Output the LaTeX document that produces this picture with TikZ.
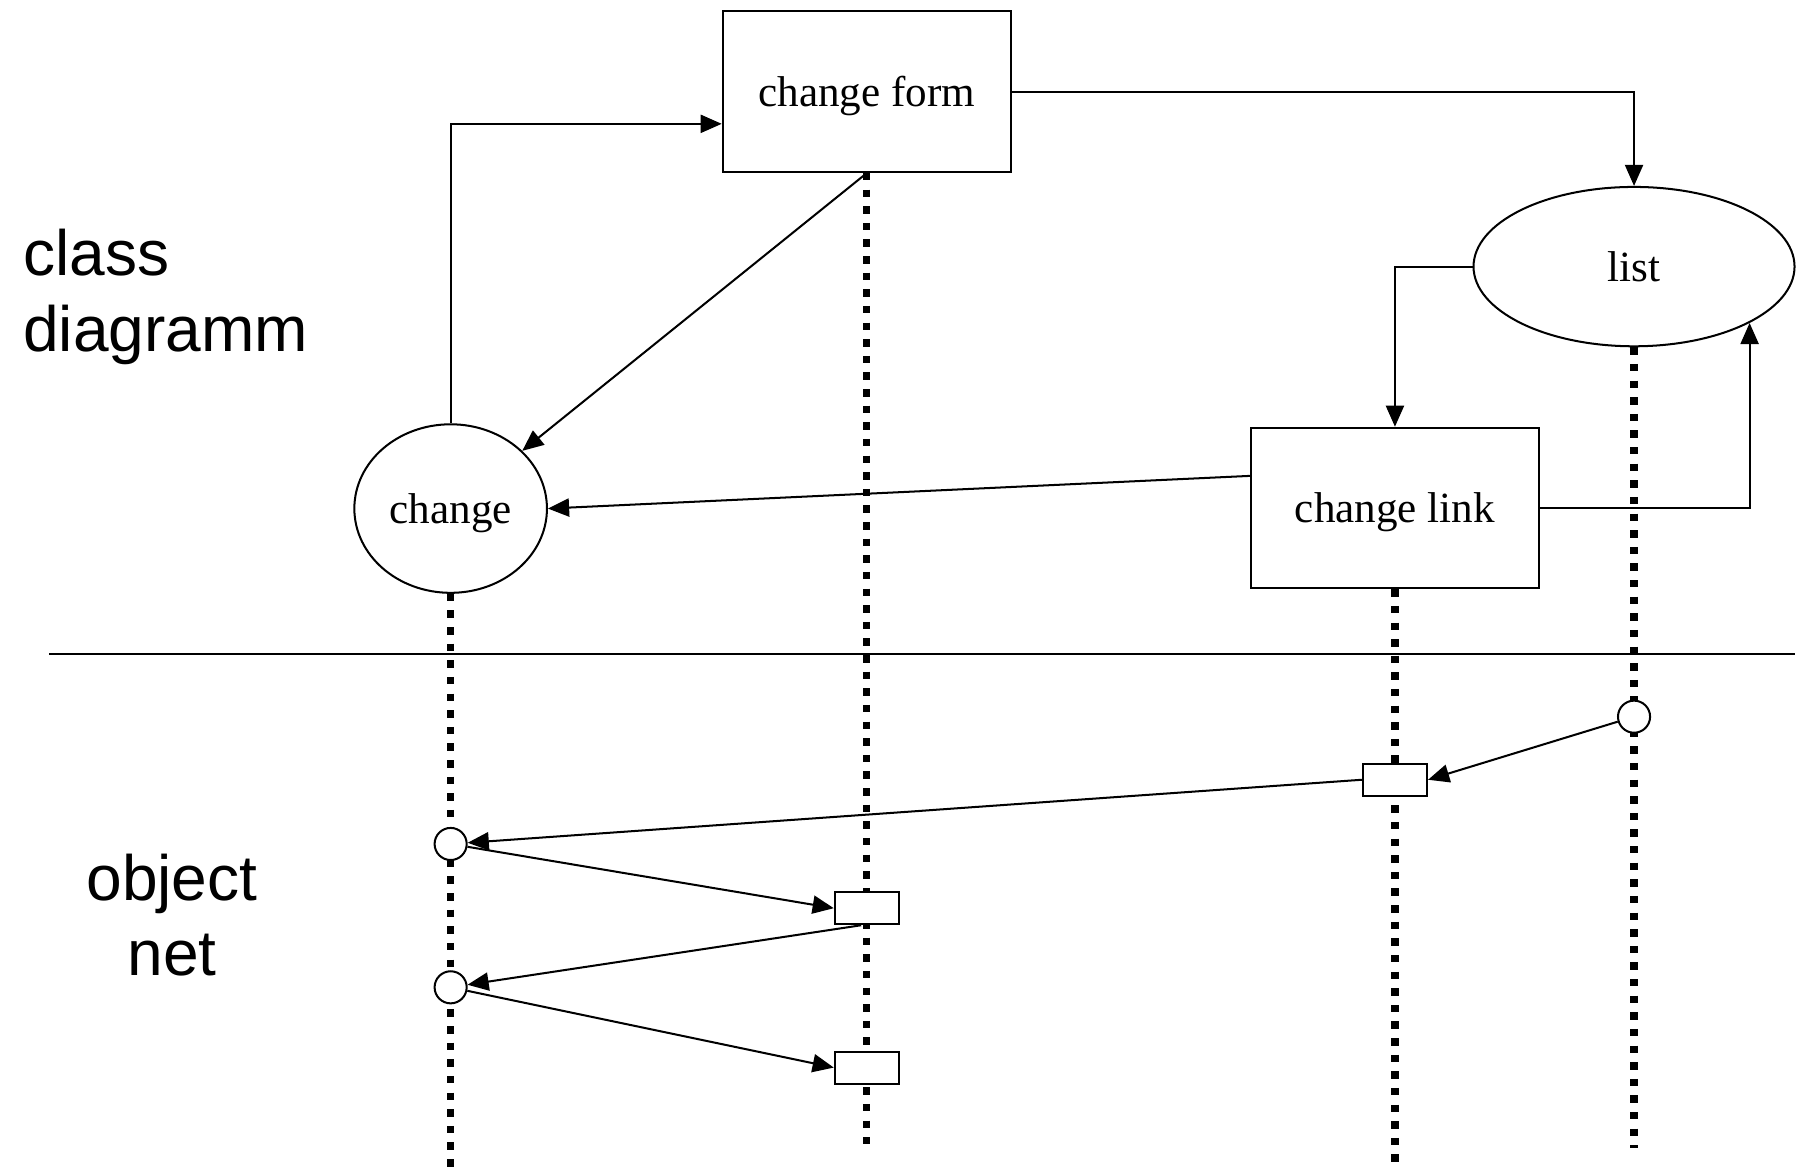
\documentclass[tikz,border=0pt]{standalone}
\usepackage{fontspec}
\setmainfont{Liberation Serif}
\newfontfamily\labelfont{Liberation Sans}
\usetikzlibrary{arrows.meta,shapes.geometric}

\tikzset{
  conn/.style={line width=1pt,-{Triangle[length=10.5pt,width=9pt]}},
  plain/.style={line width=1pt},
  classbox/.style={draw,line width=1pt,fill=white,rectangle,inner sep=0pt,
    minimum width=5.03cm,minimum height=2.8cm,text depth=0pt,
    font=\fontsize{21.4}{26}\selectfont},
  classoval/.style={draw,line width=1pt,fill=white,ellipse,inner sep=0pt,
    text depth=0pt,font=\fontsize{21.4}{26}\selectfont},
  place/.style={draw,line width=1pt,fill=white,circle,inner sep=0pt,minimum size=0.56cm},
  trans/.style={draw,line width=1pt,fill=white,rectangle,inner sep=0pt,
    minimum width=1.12cm,minimum height=0.56cm},
  lifeline/.style={line width=0.125cm,dash pattern=on 0.13cm off 0.16cm},
  sidelabel/.style={font=\labelfont\fontsize{31.8}{37.5}\selectfont,inner sep=0pt}
}

\begin{document}
\begin{tikzpicture}[x=0.02cm,y=-0.02cm]
\useasboundingbox (0,0) rectangle (1568,1018);

% class level
\node[classbox] (cform) at (756,80) {change form};
\node[classbox] (clink) at (1216.5,443) {change link};
\node[classoval,minimum width=3.36cm,minimum height=2.94cm] (change) at (393,443.5) {change};
\node[classoval,minimum width=5.6cm,minimum height=2.78cm] (list) at (1425,232.5) {list};

% end points of the lifelines
\coordinate (endA) at (393,1018);
\coordinate (endB) at (756,998);
\coordinate (endC) at (1216.5,1018);
\coordinate (endD) at (1425,1001);

% lifelines
\draw[lifeline] (change.south) -- (endA);
\draw[lifeline] (cform.south) -- (endB);
\draw[lifeline] (clink.south) -- (endC);
\draw[lifeline] (list.south) -- (endD);

% redraw class nodes above lifelines
\node[classbox] at (cform) {change form};
\node[classbox] at (clink) {change link};

% separator between the two levels
\coordinate (sepL) at (43,570);
\coordinate (sepR) at (1565,570);
\draw[plain] (sepL) -- (sepR);

% side labels
\node[sidelabel,anchor=west,align=left] (lclass) at (20,259) {class\\diagramm};
\node[sidelabel,align=center] (lobject) at (150,798) {object\\net};

% class diagram connectors
\draw[conn] (cform.east) -| (list.north);
\draw[conn] (change.north) |- ([yshift=-0.56cm]cform.west);
\draw[conn] (cform.south) -- (change);
\draw[conn] (list.west) -| (clink.north);
\draw[conn] (clink.east) -| (list.-26);
\draw[conn] ([yshift=0.56cm]clink.west) -- (change.east);

% object net
\node[place] (p1) at (1425,625) {};
\node[trans] (t1) at (1216.5,680) {};
\node[place] (p2) at (393,736) {};
\node[trans] (t2) at (756,792) {};
\node[place] (p3) at (393,861) {};
\node[trans] (t3) at (756,931) {};

\draw[conn] (p1) -- (t1.east);
\draw[conn] (t1.west) -- (p2);
\draw[conn] (p2) -- (t2.west);
\draw[conn] ([xshift=-0.1cm]t2.south) -- (p3);
\draw[conn] (p3) -- (t3.west);
\end{tikzpicture}
\end{document}
